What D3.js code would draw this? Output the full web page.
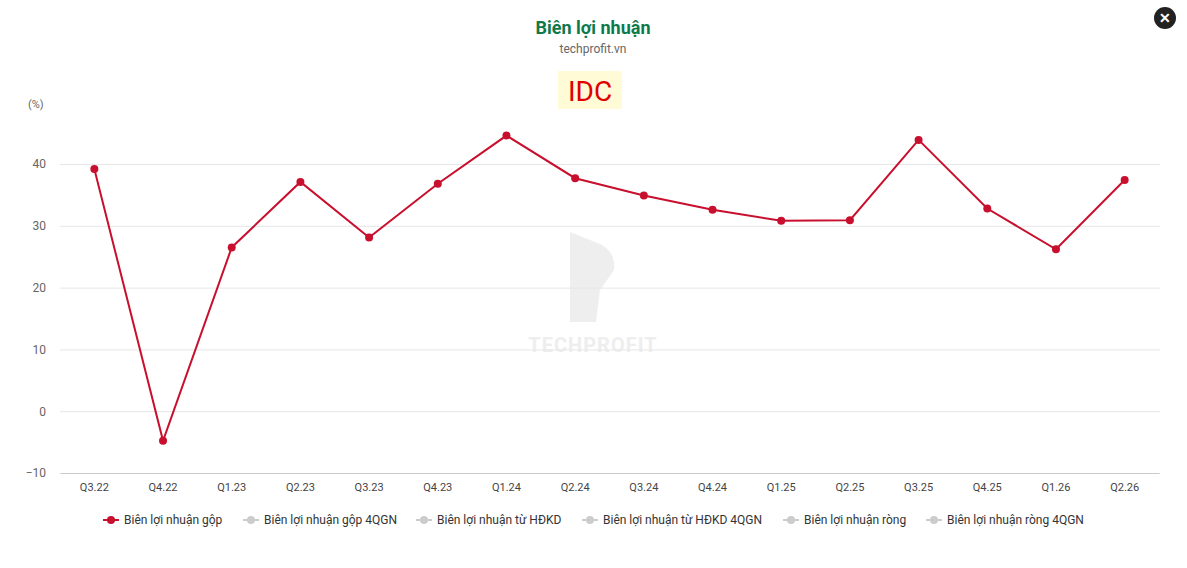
<!DOCTYPE html>
<html><head><meta charset="utf-8">
<script src="https://cdn.jsdelivr.net/npm/d3@7"></script>
<style>body{margin:0;background:#fff;font-family:Roboto,"Noto Sans",sans-serif}</style>
</head><body>
<script>
const quarters = ["Q3.22","Q4.22","Q1.23","Q2.23","Q3.23","Q4.23","Q1.24","Q2.24","Q3.24","Q4.24","Q1.25","Q2.25","Q3.25","Q4.25","Q1.26","Q2.26"];
const grossMargin = [39.2,-4.8,26.5,37.1,28.1,36.8,44.6,37.7,34.9,32.6,30.8,30.9,43.9,32.8,26.2,37.4];
const yTicks = [-10,0,10,20,30,40];
const legendNames = ["Biên lợi nhuận gộp","Biên lợi nhuận gộp 4QGN","Biên lợi nhuận từ HĐKD","Biên lợi nhuận từ HĐKD 4QGN","Biên lợi nhuận ròng","Biên lợi nhuận ròng 4QGN"];

const W = 1187, H = 568;
const svg = d3.select("body").append("svg").attr("width", W).attr("height", H);

const x = d3.scaleBand().domain(quarters).range([60, 1159]);
const y = d3.scaleLinear().domain([-10, 40]).range([473, 164]);

svg.append("text").attr("x", 593).attr("y", 34).attr("text-anchor", "middle")
  .attr("font-size", 18).attr("font-weight", "bold").attr("fill", "#0e7a4b").text("Biên lợi nhuận");
svg.append("text").attr("x", 593).attr("y", 53).attr("text-anchor", "middle")
  .attr("font-size", 12).attr("fill", "#666").text("techprofit.vn");
svg.append("rect").attr("x", 558).attr("y", 71).attr("width", 64).attr("height", 38).attr("fill", "#fffbd6");
svg.append("text").attr("x", 590).attr("y", 101).attr("text-anchor", "middle")
  .attr("font-size", 28).attr("fill", "#e00000").text("IDC");

svg.append("circle").attr("cx", 1165).attr("cy", 18).attr("r", 11).attr("fill", "#222");
svg.append("text").attr("x", 1165).attr("y", 23).attr("text-anchor", "middle")
  .attr("font-size", 14).attr("font-weight", "bold").attr("fill", "#fff").text("✕");

// watermark
svg.append("path").attr("d", "M570,232 L600,244 Q616,252 614,270 L600,290 L596,322 L570,322 Z").attr("fill", "#eee");
svg.append("text").attr("x", 593).attr("y", 352).attr("text-anchor", "middle")
  .attr("font-size", 20).attr("font-weight", "bold").attr("fill", "#eee").attr("letter-spacing", 1).text("TECHPROFIT");

svg.append("text").attr("x", 28).attr("y", 108).attr("font-size", 11).attr("fill", "#666").text("(%)");

const yAxis = svg.append("g").attr("transform", "translate(60,0)")
  .call(d3.axisLeft(y).tickValues(yTicks).tickSize(-1100).tickPadding(14));
yAxis.select(".domain").remove();
yAxis.selectAll("line").attr("stroke", "#e6e6e6");
yAxis.selectAll("text").attr("font-size", 12).attr("fill", "#666").attr("font-family", "Roboto");

const xAxis = svg.append("g").attr("transform", "translate(0,473)")
  .call(d3.axisBottom(x).tickSize(0).tickPadding(10));
xAxis.select(".domain").attr("stroke", "#ccc");
xAxis.selectAll("text").attr("font-size", 11).attr("fill", "#444").attr("font-family", "Roboto");

const cx = d => x(d) + x.bandwidth() / 2;
svg.append("path").datum(grossMargin)
  .attr("d", d3.line().x((d, i) => cx(quarters[i])).y(d => y(d)))
  .attr("fill", "none").attr("stroke", "#c8102e").attr("stroke-width", 2);
svg.selectAll(".pt").data(grossMargin).join("circle")
  .attr("cx", (d, i) => cx(quarters[i])).attr("cy", d => y(d)).attr("r", 4).attr("fill", "#c8102e");

const legendX = [103, 243, 416, 582, 783, 926];
const lg = svg.selectAll(".lg").data(legendNames).join("g").attr("transform", (d, i) => `translate(${legendX[i]},520)`);
lg.append("line").attr("x1", 0).attr("x2", 16).attr("stroke", (d, i) => i ? "#ccc" : "#c8102e").attr("stroke-width", 2);
lg.append("circle").attr("cx", 8).attr("r", 4).attr("fill", (d, i) => i ? "#ccc" : "#c8102e");
lg.append("text").attr("x", 21).attr("y", 4).attr("font-size", 12).attr("fill", "#333").text(d => d);
</script>
</body></html>
